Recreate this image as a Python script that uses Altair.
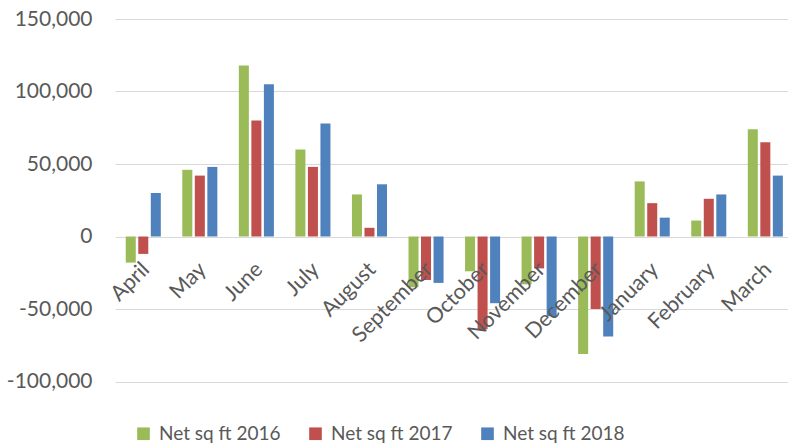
import altair as alt
import pandas as pd

# Monthly net square footage change, financial year April-March
months = ["April", "May", "June", "July", "August", "September",
          "October", "November", "December", "January", "February", "March"]
net_2016 = [-18000, 46000, 118000, 60000, 29000, -35000,
            -24000, -33000, -81000, 38000, 11000, 74000]
net_2017 = [-12000, 42000, 80000, 48000, 6000, -30000,
            -64000, -22000, -50000, 23000, 26000, 65000]
net_2018 = [30000, 48000, 105000, 78000, 36000, -32000,
            -46000, -55000, -69000, 13000, 29000, 42000]
series = ["Net sq ft 2016", "Net sq ft 2017", "Net sq ft 2018"]
colors = ["#9BBB59", "#C0504D", "#4F81BD"]
y_ticks = [-100000, -50000, 0, 50000, 100000, 150000]

rows = []
for name, values in zip(series, [net_2016, net_2017, net_2018]):
    for m, v in zip(months, values):
        rows.append({"month": m, "series": name, "value": v})
df = pd.DataFrame(rows)
labels_df = pd.DataFrame({"month": months})

FONT = "Lato"
TEXT_COLOR = "#595959"

x_enc = alt.X(
    "month:N", sort=months, axis=None,
    scale=alt.Scale(range=[0, 678.6], paddingInner=0.38, paddingOuter=0.19),
)

bars = alt.Chart(df).mark_bar().encode(
    x=x_enc,
    xOffset=alt.XOffset("series:N", sort=series,
                        scale=alt.Scale(paddingInner=0.2, paddingOuter=0)),
    y=alt.Y(
        "value:Q", stack=None,
        scale=alt.Scale(domain=[-100000, 150000], nice=False),
        axis=alt.Axis(
            values=y_ticks,
            labelExpr="replace(format(datum.value, ',.0f'), '\u2212', '-')",
            title=None, domain=False, ticks=False,
            gridColor="#d9d9d9", gridWidth=1.2,
            labelFont=FONT, labelFontSize=21, labelColor=TEXT_COLOR,
            labelPadding=23,
        ),
    ),
    color=alt.Color(
        "series:N", sort=series,
        scale=alt.Scale(domain=series, range=colors),
        legend=alt.Legend(
            orient="none", legendX=19, legendY=405, direction="horizontal",
            title=None, symbolType="square", symbolSize=160,
            symbolStrokeWidth=0, labelFont=FONT, labelFontSize=19,
            labelColor=TEXT_COLOR, columnPadding=25, labelOffset=6, padding=0,
        ),
    ),
)

# Month names sit along the zero line, rotated
month_labels = alt.Chart(labels_df).mark_text(
    angle=315, align="right", baseline="middle", dx=-19, dy=23.5,
    font=FONT, fontSize=21.5, color=TEXT_COLOR,
).encode(
    x=alt.X("month:N", sort=months, axis=None),
    y=alt.datum(0),
    text="month:N",
)

chart = alt.layer(bars, month_labels).properties(
    width=673, height=362.5,
    autosize=alt.AutoSizeParams(type="none"),
    padding={"left": 115, "top": 19, "right": 0, "bottom": 63.5},
    background="white",
).configure_view(stroke=None)

chart.save("out.html", embed_options={"renderer": "svg", "actions": False})
